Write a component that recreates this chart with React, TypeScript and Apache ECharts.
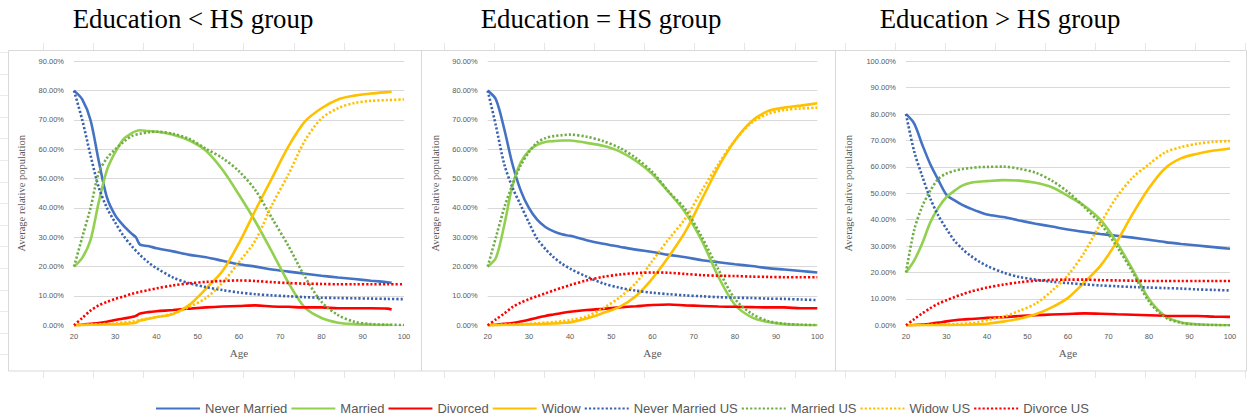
import React, { useEffect, useRef } from "react";
import * as echarts from "echarts";

// ---------- data ----------
const AGES = [20, 22, 24, 26, 28, 30, 32, 34, 36, 38, 40, 44, 48, 52, 56, 60, 64, 68, 72, 76, 80, 84, 88, 92, 96, 100];
const AGES_P1_SOLID = [20, 22, 24, 26, 28, 30, 32, 34, 35, 36, 38, 40, 44, 48, 52, 56, 60, 64, 68, 72, 76, 80, 84, 88, 92, 96, 97];

const TITLES = ["Education < HS group", "Education = HS group", "Education > HS group"];
const SERIES_NAMES = ["Never Married", "Married", "Divorced", "Widow", "Never Married US", "Married US", "Widow US", "Divorce US"];
const Y_MAX = [90, 90, 100];
const X_TITLE = "Age";
const Y_TITLE = "Average relative population";

// Panel 1: Education < HS (solid series use AGES_P1_SOLID)
const P1_NEVER_MARRIED = [80, 77, 70, 56, 43.5, 37.5, 34, 31.2, 30, 27.5, 27, 26.3, 25.2, 24, 23.2, 22, 20.8, 20, 19, 18.3, 17.6, 16.9, 16.3, 15.8, 15.2, 14.7, 14.5];
const P1_MARRIED = [20, 23, 29, 42, 53, 59, 63.5, 65.5, 66.2, 66.5, 66.2, 66, 65, 63, 59.5, 53, 44.5, 35.3, 25, 14.5, 6, 2.5, 0.9, 0.4, 0.2, 0.1, 0.1];
const P1_DIVORCED = [0, 0.2, 0.5, 0.8, 1.2, 1.8, 2.3, 2.8, 3.2, 4, 4.5, 4.8, 5.2, 5.7, 6.1, 6.4, 6.6, 6.8, 6.4, 6.3, 6.1, 6.1, 5.8, 5.8, 5.8, 5.7, 5.4];
const P1_WIDOW = [0, 0.1, 0.2, 0.2, 0.3, 0.3, 0.5, 0.7, 0.9, 1.6, 2.2, 2.8, 3.8, 7, 12.5, 18.5, 28, 39.3, 50.2, 61, 69.5, 74, 77, 78.3, 79, 79.5, 79.6];
const P1_NEVER_MARRIED_US = [80, 70, 58, 47, 40, 35, 30.5, 27, 24, 21.5, 19.5, 16.3, 14.3, 13, 12, 11.2, 10.6, 10.2, 9.9, 9.6, 9.4, 9.3, 9.2, 9.1, 9.0, 8.9];
const P1_MARRIED_US = [20, 30, 40, 52, 57, 60, 62.5, 64.5, 65.3, 65.8, 66, 65.3, 63.5, 60.2, 57, 52.5, 46, 36.5, 27, 16.5, 8, 3.5, 1.2, 0.4, 0.2, 0.1];
const P1_WIDOW_US = [0, 0.1, 0.2, 0.3, 0.5, 0.6, 0.9, 1.2, 1.8, 2.3, 2.8, 4, 6.3, 9.3, 14.5, 21.5, 29, 41, 51.5, 63, 70.5, 74, 75.8, 76.5, 76.8, 77];
const P1_DIVORCE_US = [0, 2.5, 5, 6.8, 8, 9, 9.8, 10.7, 11.4, 12, 12.6, 13.6, 14.3, 14.8, 15.1, 15.3, 15.1, 14.7, 14.4, 14.2, 14.1, 14, 14, 14, 14, 14];

// Panel 2: Education = HS
const P2_NEVER_MARRIED = [80, 77, 67, 55, 46, 40, 36, 33.5, 32, 31, 30.5, 29, 27.8, 26.8, 25.8, 25, 24, 23.2, 22.2, 21.5, 20.8, 20.2, 19.5, 19, 18.5, 18];
const P2_MARRIED = [20, 23, 34, 47.5, 55.5, 59.5, 61.5, 62.5, 62.8, 63, 63, 62.2, 61.2, 59.3, 56, 51.5, 45.3, 38.4, 28.8, 16.5, 7, 2.8, 1.1, 0.4, 0.1, 0];
const P2_DIVORCED = [0, 0.2, 0.5, 0.8, 1.3, 1.9, 2.6, 3.2, 3.7, 4.2, 4.6, 5.2, 5.6, 6.1, 6.5, 6.9, 7.1, 6.8, 6.6, 6.4, 6.3, 6.2, 6.1, 6.1, 5.8, 5.8];
const P2_WIDOW = [0, 0.05, 0.1, 0.15, 0.2, 0.3, 0.4, 0.5, 0.6, 0.8, 1, 2.3, 4.2, 6.3, 10, 16, 23.5, 32, 43, 54, 63, 69.5, 73, 74.2, 74.9, 75.7];
const P2_NEVER_MARRIED_US = [80, 68, 55, 47, 41, 35, 29.5, 26, 23.2, 21, 19.3, 16.6, 14.3, 12.8, 11.8, 11.1, 10.6, 10.2, 9.9, 9.6, 9.4, 9.3, 9.1, 9, 8.8, 8.6];
const P2_MARRIED_US = [20, 30, 40, 48, 54.5, 59, 62.3, 63.8, 64.5, 64.8, 65, 64.3, 62.8, 60.5, 57, 52.2, 45.5, 39.5, 30, 19, 9, 4, 1.5, 0.5, 0.2, 0.1];
const P2_WIDOW_US = [0, 0.1, 0.2, 0.3, 0.4, 0.5, 0.7, 0.9, 1.1, 1.4, 1.8, 3, 5.8, 9.5, 14.5, 22, 29.5, 36.5, 46, 55, 63, 69, 72, 73.4, 73.9, 74.2];
const P2_DIVORCE_US = [0, 2, 4, 6.2, 7.7, 8.9, 9.9, 10.9, 11.9, 12.8, 13.7, 15.3, 16.5, 17.3, 17.8, 18, 17.9, 17.5, 17.1, 16.9, 16.8, 16.6, 16.5, 16.4, 16.4, 16.4];

// Panel 3: Education > HS
const P3_NEVER_MARRIED = [80, 76.5, 68.5, 61, 55, 49.4, 47.3, 45.5, 44.2, 43, 42, 41, 39.7, 38.5, 37.4, 36.3, 35.4, 34.6, 33.9, 33.2, 32.4, 31.5, 30.8, 30.2, 29.6, 29];
const P3_MARRIED = [20, 24.5, 31, 39, 44.5, 48.6, 51, 53, 54, 54.4, 54.6, 55, 54.8, 54, 52.3, 49, 45.3, 40, 31.5, 21, 10, 3.5, 1.1, 0.4, 0.1, 0];
const P3_DIVORCED = [0, 0.1, 0.3, 0.6, 1, 1.5, 1.9, 2.2, 2.4, 2.6, 2.8, 3.1, 3.5, 3.8, 4.1, 4.3, 4.5, 4.4, 4.2, 4, 3.8, 3.6, 3.5, 3.5, 3.3, 3.2];
const P3_WIDOW = [0, 0, 0, 0, 0.05, 0.05, 0.1, 0.1, 0.3, 0.4, 0.6, 1.4, 2.5, 4.2, 6.8, 10.4, 16.2, 22.5, 31.5, 42.3, 52, 59.5, 63.3, 65, 66.2, 67];
const P3_NEVER_MARRIED_US = [80, 66, 56.5, 48, 41.5, 36.5, 32, 28.8, 26.3, 24.2, 22.5, 20, 18.3, 17.3, 16.5, 16, 15.5, 15.1, 14.8, 14.5, 14.3, 14.1, 13.9, 13.6, 13.4, 13.2];
const P3_MARRIED_US = [20, 36, 45, 51, 55.5, 57.5, 58.5, 59.2, 59.6, 59.9, 60, 60.1, 59.3, 57.8, 54.8, 50.5, 44.8, 38.5, 30, 20, 9, 3, 0.9, 0.3, 0.1, 0];
const P3_WIDOW_US = [0, 0.05, 0.1, 0.15, 0.2, 0.3, 0.4, 0.6, 0.8, 1.2, 2, 3.2, 5.5, 8.2, 13, 19, 27.5, 38.5, 48.5, 56, 61, 65.5, 67.5, 68.8, 69.5, 69.8];
const P3_DIVORCE_US = [0, 2.3, 4.5, 6.5, 8.2, 9.5, 10.7, 11.8, 12.8, 13.6, 14.3, 15.4, 16.3, 16.9, 17.2, 17.3, 17.3, 17.1, 17, 16.9, 16.8, 16.8, 16.8, 16.8, 16.8, 16.8];

const PANELS = [
  {
    solidAges: AGES_P1_SOLID,
    values: [P1_NEVER_MARRIED, P1_MARRIED, P1_DIVORCED, P1_WIDOW, P1_NEVER_MARRIED_US, P1_MARRIED_US, P1_WIDOW_US, P1_DIVORCE_US],
  },
  {
    solidAges: AGES,
    values: [P2_NEVER_MARRIED, P2_MARRIED, P2_DIVORCED, P2_WIDOW, P2_NEVER_MARRIED_US, P2_MARRIED_US, P2_WIDOW_US, P2_DIVORCE_US],
  },
  {
    solidAges: AGES,
    values: [P3_NEVER_MARRIED, P3_MARRIED, P3_DIVORCED, P3_WIDOW, P3_NEVER_MARRIED_US, P3_MARRIED_US, P3_WIDOW_US, P3_DIVORCE_US],
  },
];

// ---------- styling ----------
const COLORS = ["#4472C4", "#92D050", "#FF0000", "#FFC000", "#3A62B0", "#70AD47", "#FFC000", "#FF0000"];
const GRIDS = [
  { left: 74, top: 61.3, width: 330, height: 264, nameGap: 47, titleX: 193, panel: [8.5, 421.5] },
  { left: 487.7, top: 61.3, width: 329.6, height: 264, nameGap: 47, titleX: 601, panel: [421.5, 835.5] },
  { left: 906, top: 61.3, width: 324, height: 264, nameGap: 52, titleX: 1000, panel: [835.5, 1246.5] },
];
const LABEL_COLOR = "#595959";
const GRID_COLOR = "#D9D9D9";
const SERIF = '"Liberation Serif", "Times New Roman", serif';
const SANS = '"Liberation Sans", Arial, sans-serif';

function buildOption() {
  const grid = GRIDS.map((g) => ({ left: g.left, top: g.top, width: g.width, height: g.height, containLabel: false }));
  const xAxis = GRIDS.map((g, i) => ({
    type: "value",
    gridIndex: i,
    min: 20,
    max: 100,
    interval: 10,
    axisLine: { show: false },
    axisTick: { show: false },
    splitLine: { show: false },
    axisLabel: { color: LABEL_COLOR, fontSize: 7.5, fontFamily: SANS, margin: 7 },
    name: X_TITLE,
    nameLocation: "middle",
    nameGap: 22,
    nameTextStyle: { color: LABEL_COLOR, fontSize: 11, fontFamily: SERIF },
  }));
  const yAxis = GRIDS.map((g, i) => ({
    type: "value",
    gridIndex: i,
    min: 0,
    max: Y_MAX[i],
    interval: 10,
    axisLine: { show: false },
    axisTick: { show: false },
    splitLine: { show: true, lineStyle: { color: GRID_COLOR, width: 1 } },
    axisLabel: {
      color: LABEL_COLOR,
      fontSize: 7.5,
      fontFamily: SANS,
      margin: 10,
      formatter: (v: number) => v.toFixed(2) + "%",
    },
    name: Y_TITLE,
    nameLocation: "middle",
    nameGap: g.nameGap,
    nameRotate: 90,
    nameTextStyle: { color: LABEL_COLOR, fontSize: 10.5, fontFamily: SERIF },
  }));

  const series: any[] = [];
  PANELS.forEach((p, pi) => {
    p.values.forEach((vals, si) => {
      const dotted = si >= 4;
      const ages = dotted ? AGES : p.solidAges;
      series.push({
        type: "line",
        name: SERIES_NAMES[si],
        xAxisIndex: pi,
        yAxisIndex: pi,
        data: vals.map((v, k) => [ages[k], v]),
        symbol: "none",
        smooth: 0.3,
        color: COLORS[si],
        lineStyle: {
          color: COLORS[si],
          width: 2.6,
          type: dotted ? [2.2, 2.0] : "solid",
          cap: "butt",
        },
        z: 2 + si,
      });
    });
  });

  const graphic: any[] = [];
  // spreadsheet cell guides
  for (let x = 43; x < 1249; x += 50.1) {
    graphic.push({ type: "line", silent: true, shape: { x1: Math.round(x) + 0.5, y1: 43, x2: Math.round(x) + 0.5, y2: 50 }, style: { stroke: "#E6E6E6", lineWidth: 1 } });
    graphic.push({ type: "line", silent: true, shape: { x1: Math.round(x) + 0.5, y1: 371, x2: Math.round(x) + 0.5, y2: 378 }, style: { stroke: "#E6E6E6", lineWidth: 1 } });
  }
  for (let y = 52; y < 371; y += 21.6) {
    graphic.push({ type: "line", silent: true, shape: { x1: 0, y1: Math.round(y) + 0.5, x2: 8, y2: Math.round(y) + 0.5 }, style: { stroke: "#EAEAEA", lineWidth: 1 } });
  }
  // panel borders
  GRIDS.forEach((g) => {
    graphic.push({
      type: "rect",
      silent: true,
      shape: { x: g.panel[0], y: 50.5, width: g.panel[1] - g.panel[0], height: 320.5 },
      style: { fill: "none", stroke: GRID_COLOR, lineWidth: 1 },
    });
  });
  // titles
  GRIDS.forEach((g, i) => {
    graphic.push({
      type: "text",
      silent: true,
      x: g.titleX,
      y: 5,
      style: {
        text: TITLES[i],
        fill: "#000000",
        font: `26.8px ${SERIF}`,
        textAlign: "center",
        textVerticalAlign: "top",
      },
    });
  });

  return {
    animation: false,
    backgroundColor: "#ffffff",
    grid,
    xAxis,
    yAxis,
    series,
    graphic,
    legend: {
      data: SERIES_NAMES,
      left: 150,
      top: 397,
      itemWidth: 44,
      itemHeight: 14,
      itemGap: 3,
      itemStyle: { opacity: 0 },
      textStyle: { color: LABEL_COLOR, fontSize: 13, fontFamily: SANS },
    },
  };
}

export default function App() {
  const ref = useRef<HTMLDivElement>(null);
  useEffect(() => {
    if (!ref.current) return;
    const chart = echarts.init(ref.current, undefined, { renderer: "svg" });
    chart.setOption(buildOption() as any);
    return () => chart.dispose();
  }, []);
  return (
    <div
      ref={ref}
      style={{ position: "absolute", left: 0, top: 0, width: 1249, height: 418, background: "#fff" }}
    />
  );
}
